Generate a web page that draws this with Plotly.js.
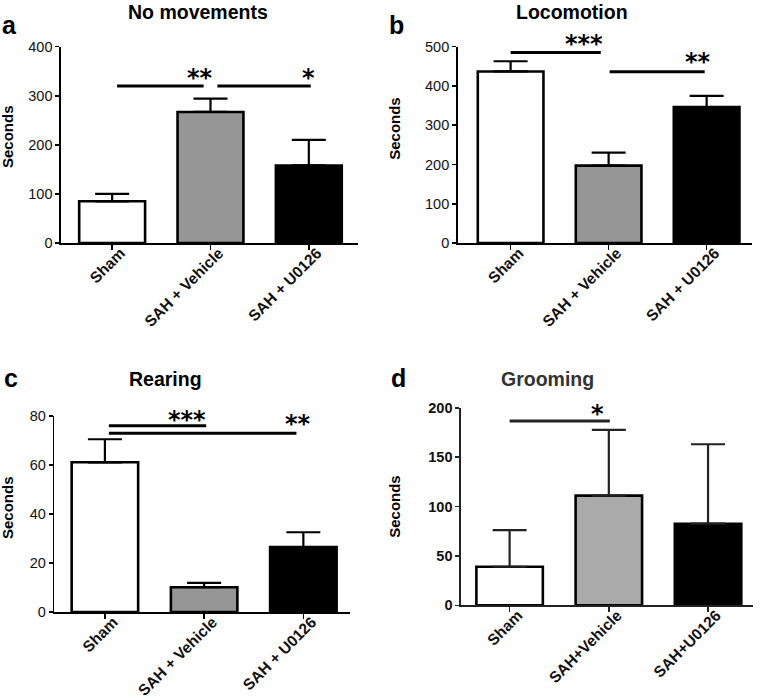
<!DOCTYPE html>
<html>
<head>
<meta charset="utf-8">
<script src="https://cdn.plot.ly/plotly-3.0.1.min.js"></script>
<style>html,body{margin:0;padding:0;background:#fff;}#chart{width:761px;height:700px;}</style>
</head>
<body>
<div id="chart"></div>
<script>
// ---- Data ----
const groupsAC = ['Sham', 'SAH + Vehicle', 'SAH + U0126'];
const groupsD = ['Sham', 'SAH+Vehicle', 'SAH+U0126'];

const noMoveMean = [85, 267, 158];
const noMoveSem = [15, 27, 52];
const locoMean = [437, 197, 346];
const locoSem = [26, 33, 29];
const rearMean = [61.0, 10.1, 26.5];
const rearSem = [9.4, 1.8, 6.0];
const groomMean = [39, 111, 82.6];
const groomSem = [37, 66.5, 80.4];

// significance brackets: from/to (category index), level (value), label, label x
const aSigFrom = [0.05, 1.07], aSigTo = [0.93, 2.02], aSigLevel = [320, 320];
const aSigLabel = ['**', '*'], aSigLabelX = [0.89, 2.0];
const bSigFrom = [0.0, 1.01], bSigTo = [0.92, 1.98], bSigLevel = [485, 436];
const bSigLabel = ['***', '**'], bSigLabelX = [0.75, 1.91];
const cSigFrom = [0.04, 0.04], cSigTo = [1.02, 1.93], cSigLevel = [75.9, 72.8];
const cSigLabel = ['***', '**'], cSigLabelX = [0.83, 1.95];
const dSigFrom = [0.0], dSigTo = [1.01], dSigLevel = [186.5];
const dSigLabel = ['*'], dSigLabelX = [0.89];

const titles = ['No movements', 'Locomotion', 'Rearing', 'Grooming'];
const letters = ['a', 'b', 'c', 'd'];

// ---- Build ----
const FONT = 'Liberation Sans, Arial, Helvetica, sans-serif';
const fillABC = ['#ffffff', '#969696', '#000000'];
const fillD = ['#ffffff', '#aaaaaa', '#000000'];
const idx = [0, 1, 2];

function barTrace(mean, sem, fills, xa, ya, lineCol) {
  return {
    type: 'bar', x: idx, y: mean, xaxis: xa, yaxis: ya, width: 0.67,
    marker: {color: fills, line: {color: '#000', width: 2.6}},
    error_y: {type: 'data', symmetric: false, array: sem, arrayminus: sem.map(() => 0),
              color: lineCol, thickness: 2.2, width: 17},
    hoverinfo: 'none', showlegend: false
  };
}
function dummy(xa, ya) {
  return {type: 'scatter', x: [], y: [], xaxis: xa, yaxis: ya, hoverinfo: 'none', showlegend: false};
}

const data = [
  barTrace(noMoveMean, noMoveSem, fillABC, 'x', 'y', '#000'),
  barTrace(locoMean, locoSem, fillABC, 'x2', 'y2', '#000'),
  barTrace(rearMean, rearSem, fillABC, 'x3', 'y3', '#000'),
  barTrace(groomMean, groomSem, fillD, 'x4', 'y4', '#222'),
  dummy('x5', 'y'), dummy('x6', 'y2'), dummy('x7', 'y3'), dummy('x8', 'y4')
];

// axis carrying the line and tick marks
function xax(domain, range, anchor, col) {
  return {
    domain: domain, range: range, anchor: anchor, tickmode: 'array', tickvals: idx,
    showticklabels: false,
    ticks: 'outside', ticklen: 5, tickwidth: 1.6, tickcolor: col,
    showline: true, linecolor: col, linewidth: 1.6, showgrid: false, zeroline: false, fixedrange: true
  };
}
// overlaid axis carrying only the rotated category labels
function labax(domain, range, cats, anchor, over) {
  return {
    domain: domain, range: range, anchor: anchor, overlaying: over, tickmode: 'array',
    tickvals: idx.map(v => v + 0.085), ticktext: cats, tickangle: -45,
    ticks: 'outside', ticklen: 5, tickcolor: 'rgba(0,0,0,0)', ticklabelstandoff: -11,
    showline: false, showgrid: false, zeroline: false, fixedrange: true,
    tickfont: {family: FONT, size: 15.5, color: '#111', weight: 'bold'}
  };
}
function yax(domain, range, dtick, anchor, col, bold) {
  return {
    domain: domain, range: range, anchor: anchor, dtick: dtick, ticks: 'outside', ticklen: 4,
    tickwidth: 1.6, tickcolor: col, showline: true, linecolor: col, linewidth: 1.6,
    showgrid: false, zeroline: false, ticklabelstandoff: 0,
    tickfont: {family: FONT, size: 14.5, color: '#111', weight: bold ? 'bold' : 'normal'},
    fixedrange: true
  };
}

const shapes = [];
const annotations = [];
function addSig(xa, ya, from, to, level, labels, lx, col, shifts) {
  for (let i = 0; i < from.length; i++) {
    shapes.push({type: 'line', xref: xa, yref: ya, x0: from[i], x1: to[i], y0: level[i], y1: level[i],
                 line: {color: col, width: 3}});
    annotations.push({xref: xa, yref: ya, x: lx[i], y: level[i], text: labels[i], showarrow: false,
                      xanchor: 'center', yanchor: 'middle', yshift: shifts[i],
                      font: {family: 'DejaVu Sans, sans-serif', size: 24, color: '#000', weight: 'bold'}});
  }
}
addSig('x', 'y', aSigFrom, aSigTo, aSigLevel, aSigLabel, aSigLabelX, '#000', [7.5, 7.5]);
addSig('x2', 'y2', bSigFrom, bSigTo, bSigLevel, bSigLabel, bSigLabelX, '#000', [8.7, 9.7]);
addSig('x3', 'y3', cSigFrom, cSigTo, cSigLevel, cSigLabel, cSigLabelX, '#000', [6, 9.3]);
addSig('x4', 'y4', dSigFrom, dSigTo, dSigLevel, dSigLabel, dSigLabelX, '#222', [7]);

const titlePos = [[0.2608, 1], [0.7517, 1], [0.2181, 0.4586], [0.7194, 0.4586]];
const titleAnchor = ['top', 'top', 'middle', 'middle'];
const titleCol = ['#000', '#000', '#000', '#333'];
const letterPos = [[0.0131, 0.9643], [0.5204, 0.9643], [0.0142, 0.4607], [0.523, 0.4607]];
const secPos = [[0.00986, 0.805], [0.5184, 0.8167], [0.00986, 0.275], [0.5184, 0.2767]];
for (let i = 0; i < 4; i++) {
  annotations.push({xref: 'paper', yref: 'paper', x: titlePos[i][0], y: titlePos[i][1], text: titles[i],
    showarrow: false, xanchor: 'center', yanchor: titleAnchor[i], borderpad: 0,
    font: {family: FONT, size: 19.5, color: titleCol[i], weight: 'bold'}});
  annotations.push({xref: 'paper', yref: 'paper', x: letterPos[i][0], y: letterPos[i][1], text: letters[i],
    showarrow: false, xanchor: 'center', yanchor: 'middle',
    font: {family: FONT, size: 25, color: '#000', weight: 'bold'}});
  annotations.push({xref: 'paper', yref: 'paper', x: secPos[i][0], y: secPos[i][1], text: 'Seconds',
    showarrow: false, xanchor: 'center', yanchor: 'middle', textangle: -90,
    font: {family: FONT, size: 15, color: '#000', weight: 'bold'}});
}

const dA = [0.08016, 0.47043], dB = [0.60145, 0.98778], dC = [0.07135, 0.45992], dD = [0.60578, 0.98909];
const rA = [-0.52, 2.5], rB = [-0.54, 2.46], rC = [-0.51, 2.47], rD = [-0.49, 2.45];

const layout = {
  width: 761, height: 700, margin: {l: 0, r: 0, t: 0, b: 0},
  paper_bgcolor: '#fff', plot_bgcolor: 'rgba(0,0,0,0)', showlegend: false,
  font: {family: FONT, color: '#000'},
  xaxis: xax(dA, rA, 'y', '#000'),
  yaxis: yax([0.65286, 0.93329], [0, 400], 100, 'x', '#000', false),
  xaxis2: xax(dB, rB, 'y2', '#000'),
  yaxis2: yax([0.65286, 0.93329], [0, 500], 100, 'x2', '#000', false),
  xaxis3: xax(dC, rC, 'y3', '#000'),
  yaxis3: yax([0.12571, 0.40614], [0, 80], 20, 'x3', '#000', false),
  xaxis4: xax(dD, rD, 'y4', '#222'),
  yaxis4: yax([0.13529, 0.41757], [0, 200], 50, 'x4', '#222', true),
  xaxis5: labax(dA, rA, groupsAC, 'y', 'x'),
  xaxis6: labax(dB, rB, groupsAC, 'y2', 'x2'),
  xaxis7: labax(dC, rC, groupsAC, 'y3', 'x3'),
  xaxis8: labax(dD, rD, groupsD, 'y4', 'x4'),
  shapes: shapes, annotations: annotations
};

Plotly.newPlot('chart', data, layout, {displayModeBar: false, staticPlot: true});
</script>
</body>
</html>
